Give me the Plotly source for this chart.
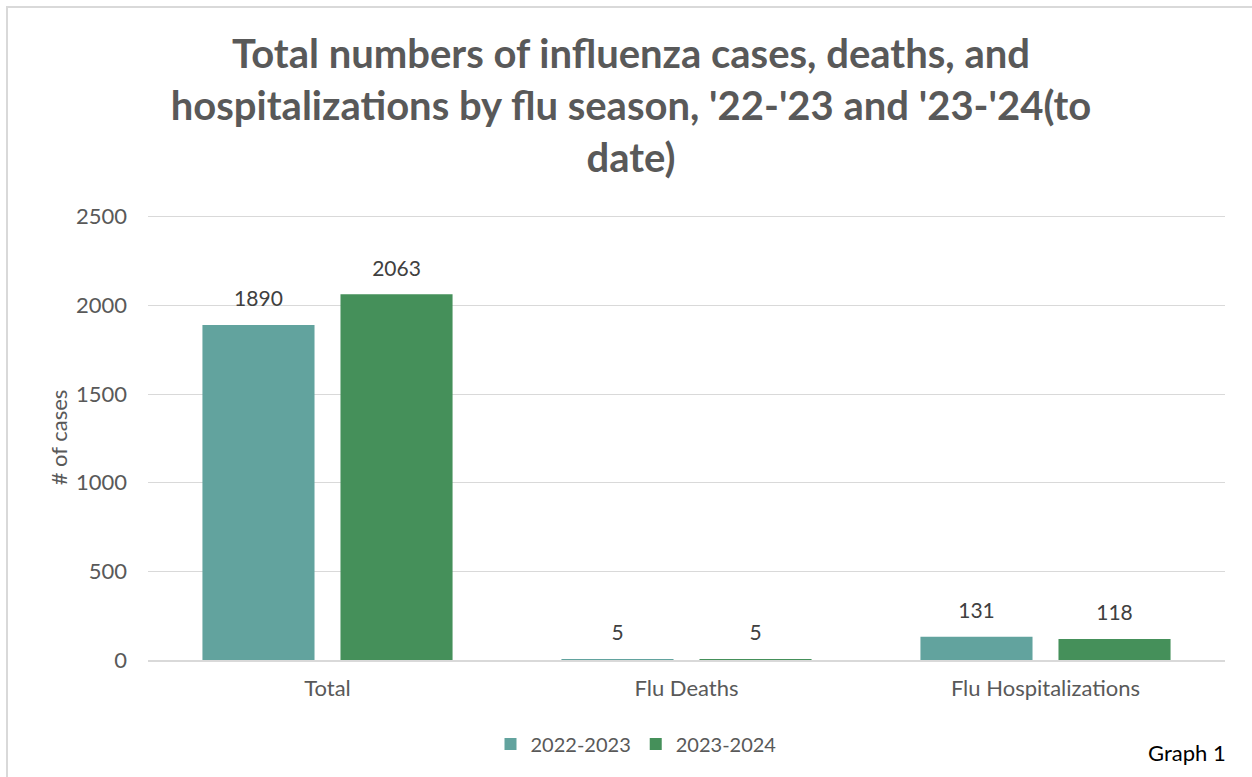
import plotly.graph_objects as go

categories = ["Total", "Flu Deaths", "Flu Hospitalizations"]
season_names = ["2022-2023", "2023-2024"]
values_2022_2023 = [1890, 5, 131]
values_2023_2024 = [2063, 5, 118]
y_ticks = [0, 500, 1000, 1500, 2000, 2500]

colors = ["#62A39E", "#45905A"]
FONT = "Lato"

fig = go.Figure()
for i, (name, vals, col) in enumerate(zip(season_names, [values_2022_2023, values_2023_2024], colors)):
    fig.add_trace(go.Bar(
        x=categories, y=vals, name=name, offsetgroup=str(i),
        marker=dict(color=col, line=dict(width=0)),
        hoverinfo="skip",
    ))
for i, vals in enumerate([values_2022_2023, values_2023_2024]):
    fig.add_trace(go.Scatter(
        x=categories, y=vals, mode="markers+text", offsetgroup=str(i),
        text=[str(v) for v in vals], textposition="top center",
        marker=dict(size=20, color="rgba(0,0,0,0)"),
        textfont=dict(family=FONT, size=21, color="#404040"),
        showlegend=False, hoverinfo="skip", cliponaxis=False,
    ))

W, H = 1252, 777
L, R, T, B = 148, 27, 215, 117
pw, ph = W - L - R, H - T - B

def px_x(x):
    return (x - L) / pw

def px_y(y):
    return (H - B - y) / ph

fig.update_layout(
    width=W, height=H, autosize=False,
    margin=dict(l=L, r=R, t=T, b=B, autoexpand=False),
    paper_bgcolor="white", plot_bgcolor="white",
    barmode="group", bargap=0.231, bargroupgap=0.188,
    scattermode="group", scattergap=0.231,
    title=dict(
        text="Total numbers of influenza cases, deaths, and<br>hospitalizations by flu season, '22-'23 and '23-'24(to<br>date)",
        x=0.504, xref="container", xanchor="center", y=0.913, yanchor="top",
        font=dict(family=FONT, size=40, color="#595959", weight="bold"),
    ),
    font=dict(family=FONT, color="#595959"),
    xaxis=dict(
        showgrid=False, showline=True, linecolor="#D9D9D9", linewidth=1.5,
        tickfont=dict(family=FONT, size=22, color="#595959"), ticks="", tickangle=0,
        automargin=False, ticklabelstandoff=8,
    ),
    yaxis=dict(
        range=[0, 2510], tickvals=y_ticks, showgrid=True, gridcolor="#D9D9D9", gridwidth=1,
        zeroline=False, showline=False, ticks="", automargin=False, ticklabelstandoff=20,
        tickfont=dict(family=FONT, size=22, color="#595959"),
        title=dict(text="# of cases", font=dict(family=FONT, size=22, color="#595959"), standoff=2),
    ),
    legend=dict(
        orientation="h", x=px_x(636), xanchor="center", y=px_y(744), yanchor="middle",
        font=dict(family=FONT, size=20, color="#595959"),
        itemwidth=30, traceorder="normal",
    ),
    annotations=[dict(
        text="Graph 1", xref="paper", yref="paper", x=px_x(1228), y=px_y(752),
        xanchor="right", yanchor="middle", showarrow=False,
        font=dict(family=FONT, size=22, color="#000000"),
    )],
    shapes=[dict(
        type="rect", xref="paper", yref="paper",
        x0=px_x(7), x1=px_x(1265), y0=px_y(790), y1=px_y(7),
        line=dict(color="#D9D9D9", width=2), fillcolor="rgba(0,0,0,0)", layer="below",
    )],
)

fig.write_html("out.html", config={"displayModeBar": False, "responsive": False},
               post_script="document.body.style.margin='0';")
